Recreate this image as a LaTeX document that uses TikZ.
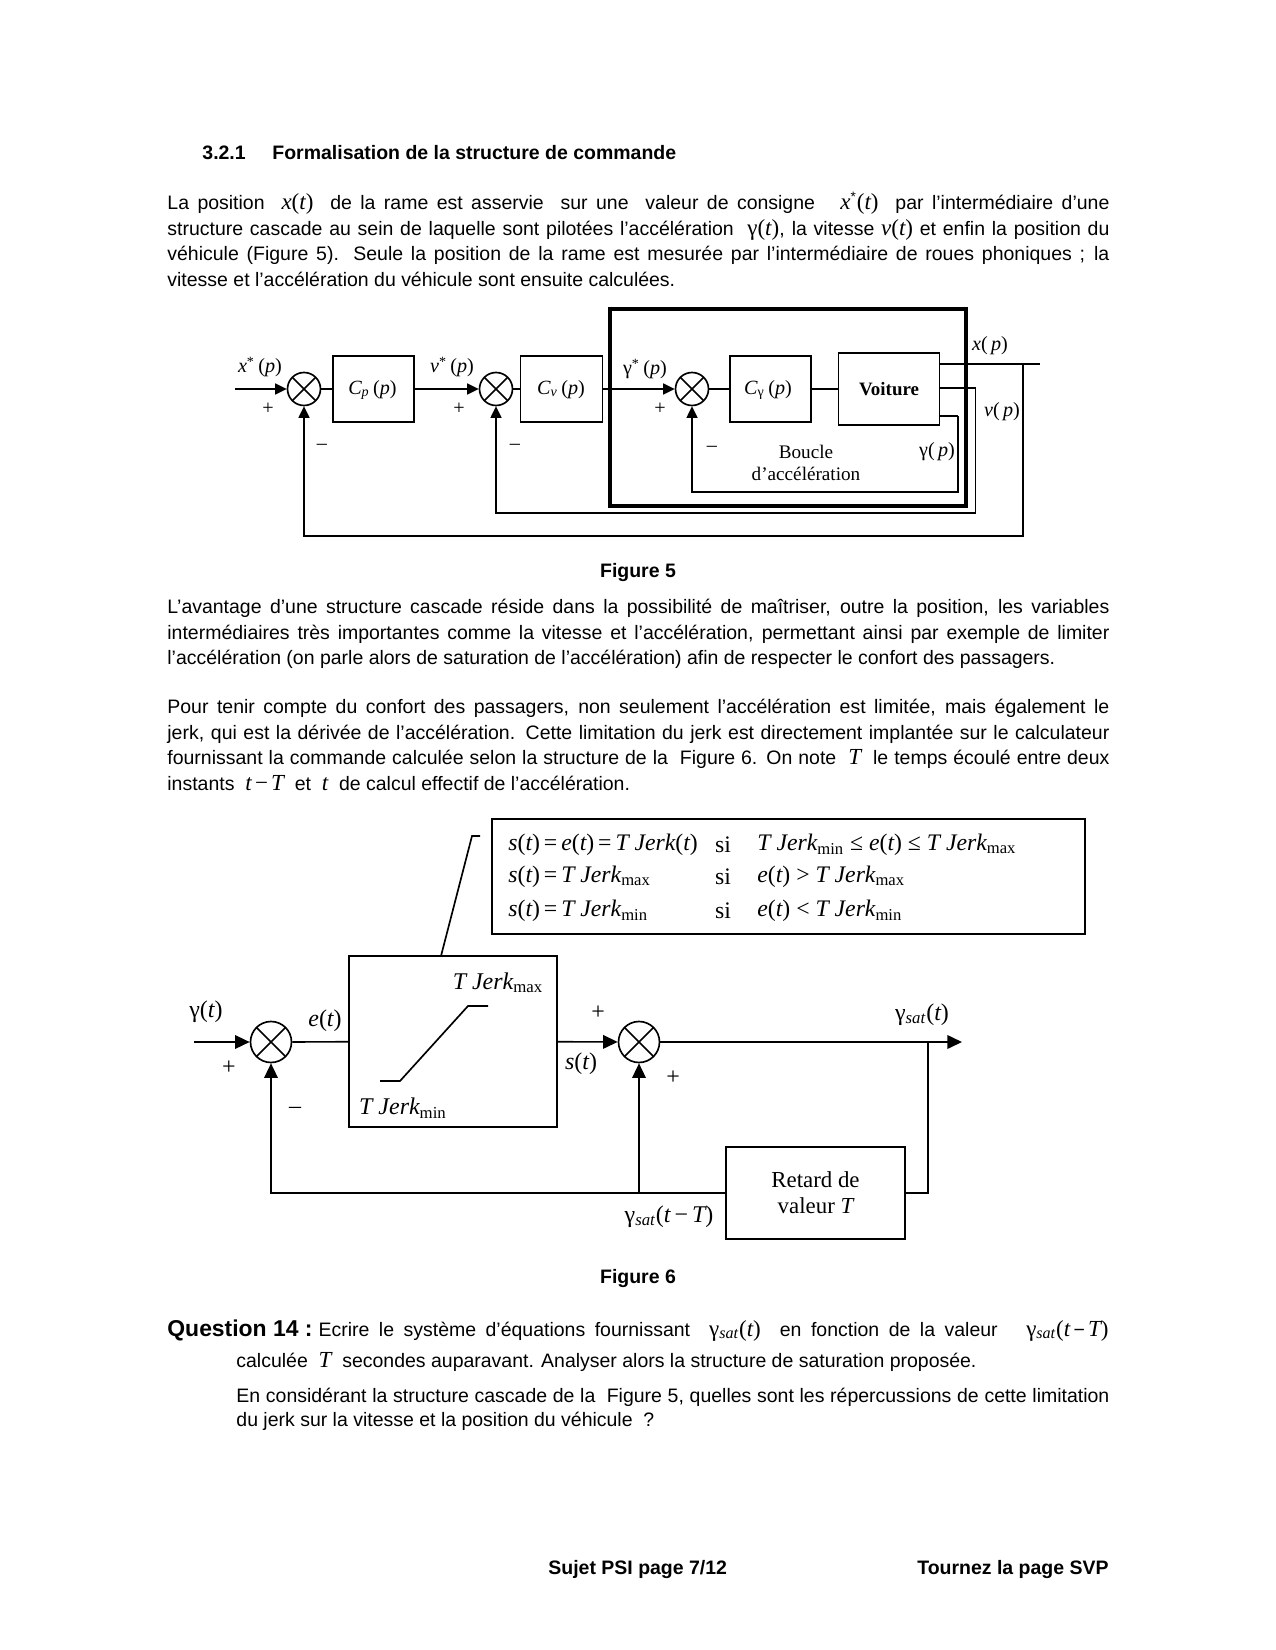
\documentclass[tikz,border=0pt]{standalone}
\usepackage{fontspec}
\setmainfont{Liberation Sans}
\newfontfamily\tm[Scale=1.18,Ligatures=TeX]{Liberation Serif}
\usetikzlibrary{arrows.meta,positioning,calc}
\newcommand{\pu}{0.48pt}
\newcommand{\vr}[1]{{\tm\itshape #1}}
\newcommand{\ro}[1]{{\tm #1}}
\newcommand{\gam}{{\tm\upshape γ}}
\newcommand{\bodyfont}{\fontsize{9.35pt}{12.2pt}\selectfont}
\tikzset{
  blk/.style={draw=black,line width=0.8pt,inner sep=0pt,align=center},
  sumnode/.style={draw=black,line width=0.8pt,circle,inner sep=0pt,minimum size=33*\pu,
    path picture={\draw[line width=0.8pt] (path picture bounding box.north west)--(path picture bounding box.south east)
      (path picture bounding box.north east)--(path picture bounding box.south west);}},
  lbl/.style={inner sep=0pt,font=\tm\fontsize{8.2pt}{10pt}\selectfont},
  lblb/.style={inner sep=0pt,font=\tm\fontsize{9.75pt}{13pt}\selectfont},
  rowt/.style={lbl,font=\tm\fontsize{9.65pt}{13pt}\selectfont},
  para/.style={inner sep=0pt,anchor=north west,text width=942*\pu,align=justify,font=\bodyfont},
  txt/.style={inner sep=0pt,font=\bodyfont},
  ln/.style={line width=0.8pt},
  ar/.style={line width=0.8pt,-{Triangle[length=5.5pt,width=5.2pt]}},
  arb/.style={line width=0.8pt,-{Triangle[length=7pt,width=6.5pt]}},
}
\begin{document}
\begin{tikzpicture}[x=0.48pt,y=-0.48pt]
\useasboundingbox (0,0) rectangle (1275,1650);
% texte du haut
\node[txt,anchor=base west,font=\bodyfont\bfseries] (num) at (202,160) {3.2.1};
\node[txt,anchor=base west,font=\bodyfont\bfseries] (title) at (272,160) {Formalisation de la structure de commande};
\node[para] (para1) at (167,192) {La position \ \vr{x}\ro{(}\vr{t}\ro{)} \ de la rame est asservie \ sur une \ valeur de consigne \ \ \vr{x}\textsuperscript{*}\ro{(}\vr{t}\ro{)} \ par l'intermédiaire d'une\linebreak
structure cascade au sein de laquelle sont pilotées l'accélération \ \gam\ro{(}\vr{t}\ro{)}, la vitesse \vr{v}\ro{(}\vr{t}\ro{)} et enfin la position du\linebreak
véhicule (Figure 5). Seule la position de la rame est mesurée par l'intermédiaire de roues phoniques ; la\linebreak
vitesse et l'accélération du véhicule sont ensuite calculées.};
% figure 5
\node[sumnode] (s1) at (304,389) {};
\node[sumnode] (s2) at (496,389) {};
\node[sumnode] (s3) at (692,389) {};
\node[blk,minimum width=81*\pu,minimum height=66*\pu] (cp) at (373.5,389) {};
\node[blk,minimum width=82*\pu,minimum height=66*\pu] (cv) at (561.5,389) {};
\node[blk,minimum width=81*\pu,minimum height=66*\pu] (cg) at (770.5,389) {};
\node[blk,minimum width=101*\pu,minimum height=72*\pu,font=\tm\bfseries\fontsize{7.7pt}{11pt}\selectfont] (voit) at (889,389) {Voiture};
\node[draw=black,line width=1.6pt,minimum width=356*\pu,minimum height=197*\pu,inner sep=0pt] (frame) at (788,407.5) {};
\coordinate (in1) at (235,389);
\coordinate (xb) at (1023,364);
\coordinate (xe) at (1040,364);
\coordinate (b1) at (304,536);
\coordinate (vb) at (975.5,388);
\coordinate (b2) at (496,513);
\coordinate (gb) at (958,416);
\coordinate (b3) at (692,492);
\draw[ar] (in1) -- (s1);
\draw[ln] (s1) -- (cp);
\draw[ar] (cp) -- (s2);
\draw[ln] (s2) -- (cv);
\draw[ar] (cv) -- (s3);
\draw[ln] (s3) -- (cg);
\draw[ln] (cg) -- (voit);
\draw[ln] (voit.east |- xe) -- (xe);
\draw[ar] (xb) |- (b1) -- (s1);
\draw[ln] (voit.east |- vb) -- (vb);
\draw[ar] (vb) |- (b2) -- (s2);
\draw[ln] (voit.east |- gb) -- (gb);
\draw[ar] (gb) |- (b3) -- (s3);
\node[lbl] (lxs) at (260,367) {\vr{x}\textsuperscript{*}\,\ro{(}\vr{p}\ro{)}};
\node[lbl] (lvs) at (452,367) {\vr{v}\textsuperscript{*}\,\ro{(}\vr{p}\ro{)}};
\node[lbl] (lgs) at (645,369) {\gam\textsuperscript{*}\,\ro{(}\vr{p}\ro{)}};
\node[lbl] (lcp) at (372.5,390) {\vr{C}\textsubscript{\vr{p}}\,\ro{(}\vr{p}\ro{)}};
\node[lbl] (lcv) at (561,390) {\vr{C}\textsubscript{\vr{v}}\,\ro{(}\vr{p}\ro{)}};
\node[lbl] (lcg) at (768,390) {\vr{C}\textsubscript{\gam}\,\ro{(}\vr{p}\ro{)}};
\node[lbl] (lx) at (990,346) {\vr{x}\ro{(}\,\vr{p}\ro{)}};
\node[lbl] (lv) at (1002,412) {\vr{v}\ro{(}\,\vr{p}\ro{)}};
\node[lbl] (lg) at (937,452) {\gam\ro{(}\,\vr{p}\ro{)}};
\node[lbl,align=center,font=\tm\fontsize{7.8pt}{10.7pt}\selectfont] (lboucle) at (806,463) {Boucle\\d'accélération};
\node[lbl] (p1) at (268,409) {+};
\node[lbl] (m1) at (322,447) {--};
\node[lbl] (p2) at (459,409) {+};
\node[lbl] (m2) at (515,447) {--};
\node[lbl] (p3) at (660,409) {+};
\node[lbl] (m3) at (712,449) {--};
\node[txt,font=\bodyfont\bfseries] (cap5) at (638,573) {Figure 5};
% paragraphes
\node[para] (para2) at (167,599) {L'avantage d'une structure cascade réside dans la possibilité de maîtriser, outre la position, les variables\linebreak
intermédiaires très importantes comme la vitesse et l'accélération, permettant ainsi par exemple de limiter\linebreak
l'accélération (on parle alors de saturation de l'accélération) afin de respecter le confort des passagers.};
\node[para] (para3) at (167,699) {Pour tenir compte du confort des passagers, non seulement l'accélération est limitée, mais également le\linebreak
jerk, qui est la dérivée de l'accélération. Cette limitation du jerk est directement implantée sur le calculateur\linebreak
fournissant la commande calculée selon la structure de la \ Figure 6. On note \ \vr{T} \ le temps écoulé entre deux\linebreak
instants \ \vr{t}\,\ro{−}\,\vr{T} \ et \ \vr{t} \ de calcul effectif de l'accélération.};
% figure 6
\node[blk,minimum width=593*\pu,minimum height=115*\pu] (tbl) at (788.5,876.5) {};
\node[rowt,anchor=west] (r1a) at (508,845) {\vr{s}(\vr{t})\,=\,\vr{e}(\vr{t})\,=\,\vr{T Jerk}(\vr{t})};
\node[rowt] (r1b) at (723,845) {si};
\node[rowt,anchor=west] (r1c) at (757,845) {\vr{T Jerk}\textsubscript{min} ≤ \vr{e}(\vr{t}) ≤ \vr{T Jerk}\textsubscript{max}};
\node[rowt,anchor=west] (r2a) at (508,877) {\vr{s}(\vr{t})\,=\,\vr{T Jerk}\textsubscript{max}};
\node[rowt] (r2b) at (723,877) {si};
\node[rowt,anchor=west] (r2c) at (757,877) {\vr{e}(\vr{t}) > \vr{T Jerk}\textsubscript{max}};
\node[rowt,anchor=west] (r3a) at (508,911) {\vr{s}(\vr{t})\,=\,\vr{T Jerk}\textsubscript{min}};
\node[rowt] (r3b) at (723,911) {si};
\node[rowt,anchor=west] (r3c) at (757,911) {\vr{e}(\vr{t}) < \vr{T Jerk}\textsubscript{min}};
\node[sumnode,minimum size=41*\pu] (s4) at (271,1042) {};
\node[sumnode,minimum size=41*\pu] (s5) at (639,1042) {};
\node[blk,minimum width=208*\pu,minimum height=171*\pu] (jerk) at (453,1041.5) {};
\node[blk,minimum width=179*\pu,minimum height=92*\pu,font=\tm\fontsize{9.3pt}{12.6pt}\selectfont] (ret) at (815.5,1193) {Retard de\\valeur \vr{T}};
\coordinate (in4) at (194,1042);
\coordinate (oute) at (962,1042);
\coordinate (ob) at (928,1042);
\coordinate (d1) at (639,1193);
\coordinate (d2) at (271,1193);
\coordinate (ca) at (441,956);
\coordinate (cb) at (472,836);
\coordinate (cc) at (480,836);
\coordinate (ra) at (380,1081);
\coordinate (rb) at (400,1081);
\coordinate (rc) at (468,1006);
\coordinate (rd) at (488,1006);
\draw[arb] (in4) -- (s4);
\draw[ln] (s4) -- (jerk);
\draw[arb] (jerk) -- (s5);
\draw[arb] (s5) -- (oute);
\draw[ln] (ob) |- (ret);
\draw[arb] (ret) -- (d2) -- (s4);
\draw[arb] (d1) -- (s5);
\draw[ln] (ca) -- (cb) -- (cc);
\draw[ln] (ra) -- (rb) -- (rc) -- (rd);
\node[lblb] (lgam) at (206,1012) {\gam\ro{(}\vr{t}\ro{)}};
\node[lblb] (le) at (325,1021) {\vr{e}\ro{(}\vr{t}\ro{)}};
\node[lblb] (ls) at (581,1064) {\vr{s}\ro{(}\vr{t}\ro{)}};
\node[lblb] (lmax) at (498,983) {\vr{T Jerk}\textsubscript{max}};
\node[lblb] (lmin) at (403,1108) {\vr{T Jerk}\textsubscript{min}};
\node[lblb] (lsat) at (922,1015) {\gam\textsubscript{\vr{sat}}\ro{(}\vr{t}\ro{)}};
\node[lblb] (lsatd) at (669,1217) {\gam\textsubscript{\vr{sat}}\ro{(}\vr{t}\,−\,\vr{T}\ro{)}};
\node[lblb] (p4) at (229,1068) {+};
\node[lblb] (m4) at (295,1110) {--};
\node[lblb] (p5) at (598,1013) {+};
\node[lblb] (p6) at (673,1078) {+};
\node[txt,font=\bodyfont\bfseries] (cap6) at (638,1278) {Figure 6};
% question
\node[txt,anchor=base west,font=\fontsize{11pt}{13pt}\selectfont\bfseries] (q14) at (167,1336) {Question 14 :};
\node[txt,anchor=base east,text width=790*\pu,align=justify] (q14a) at (1109,1336) {Ecrire le système d'équations fournissant \ \gam\textsubscript{\vr{sat}}\ro{(}\vr{t}\ro{)} \ en fonction de la valeur \ \ \gam\textsubscript{\vr{sat}}\ro{(}\vr{t}\,−\,\vr{T}\ro{)}\linebreak};
\node[txt,anchor=base west] (q14b) at (236,1367) {calculée \ \vr{T} \ secondes auparavant. Analyser alors la structure de saturation proposée.};
\node[para,text width=873*\pu,font=\fontsize{9.35pt}{11.2pt}\selectfont] (q14c) at (236,1388) {En considérant la structure cascade de la \ Figure 5, quelles sont les répercussions de cette limitation\linebreak
du jerk sur la vitesse et la position du véhicule \ ?};
\node[txt,anchor=base west,font=\bodyfont\bfseries] (foot1) at (548,1574) {Sujet PSI page 7/12};
\node[txt,anchor=base east,font=\bodyfont\bfseries] (foot2) at (1109,1574) {Tournez la page SVP};
\end{tikzpicture}
\end{document}
